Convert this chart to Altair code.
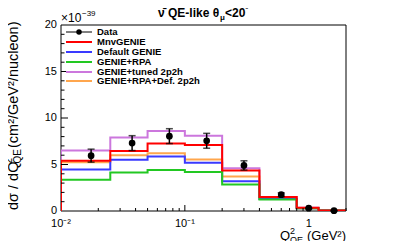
import altair as alt
import pandas as pd

# ---------------- data ----------------
edges = [0.01, 0.025, 0.05, 0.1, 0.2, 0.4, 0.8, 1.2, 2.0]
mnv_genie = [5.4, 6.45, 7.25, 7.1, 4.35, 1.5, 0.35, 0.05]
default_genie = [4.45, 5.5, 5.85, 5.2, 3.2, 1.3, 0.3, 0.05]
genie_rpa = [3.35, 4.15, 4.4, 4.2, 2.85, 1.25, 0.3, 0.05]
genie_tuned = [6.5, 7.9, 8.6, 8.1, 4.6, 1.5, 0.35, 0.05]
genie_rpa_def = [5.25, 6.0, 6.2, 5.55, 3.7, 1.35, 0.3, 0.05]

data_x = [0.0175, 0.0375, 0.075, 0.15, 0.3, 0.6, 1.0, 1.6]
data_y = [5.95, 7.3, 8.05, 7.55, 4.9, 1.75, 0.3, 0.03]
data_err = [0.7, 0.8, 0.8, 0.8, 0.5, 0.2, 0.05, 0.02]

legend_labels = ["Data", "MnvGENIE", "Default GENIE", "GENIE+RPA",
                 "GENIE+tuned 2p2h", "GENIE+RPA+Def. 2p2h"]
legend_colors = ["#000000", "#ff0000", "#3a3aff", "#22c822", "#cc77dd", "#ffa64d"]

x_label_vals = [0.01, 0.1, 1.0]
x_label_text = ["10⁻²", "10⁻¹", "1"]
y_label_vals = [0, 5, 10, 15, 20]
x_major = [0.1, 1.0]
x_minor = [0.02, 0.03, 0.04, 0.05, 0.06, 0.07, 0.08, 0.09,
           0.2, 0.3, 0.4, 0.5, 0.6, 0.7, 0.8, 0.9, 2.0]
y_major = [5, 10, 15]
y_minor = [1, 2, 3, 4, 6, 7, 8, 9, 11, 12, 13, 14, 16, 17, 18, 19]

W, H = 285, 186
FONT = "Liberation Sans"

xs = alt.Scale(type="log", domain=[0.01, 2.0], nice=False)
ys = alt.Scale(domain=[0, 20], nice=False, zero=False)


def X(f):
    return alt.X(f, scale=xs, axis=None)


def Y(f):
    return alt.Y(f, scale=ys, axis=None)


def hist_df(vals):
    px = [edges[0]] + edges[:-1] + [edges[-1], edges[-1]]
    py = [0] + vals + [vals[-1], 0]
    return pd.DataFrame({"x": px, "y": py, "o": list(range(len(px)))})


def hist(vals, color):
    return alt.Chart(hist_df(vals)).mark_line(
        interpolate="step-after", color=color, strokeWidth=2, clip=True
    ).encode(x=X("x:Q"), y=Y("y:Q"), order="o:Q")


one = pd.DataFrame({"a": [0]})

# frame
frame = alt.Chart(one).mark_rect(fill="white", stroke="black", strokeWidth=1).encode(
    x=alt.value(0), x2=alt.value(W), y=alt.value(0), y2=alt.value(H))

# axis labels
xlab = alt.Chart(pd.DataFrame({"x": x_label_vals, "t": x_label_text})).mark_text(
    font=FONT, fontSize=11, baseline="top", align="center", color="black").encode(
    x=X("x:Q"), y=alt.value(H + 7), text="t:N")
ylab = alt.Chart(pd.DataFrame({"y": y_label_vals})).mark_text(
    font=FONT, fontSize=11, baseline="middle", align="right", color="black").encode(
    y=Y("y:Q"), x=alt.value(-4), text="y:Q")

# tick marks (inward)
xt_major = alt.Chart(pd.DataFrame({"x": x_major})).mark_rule(color="black").encode(
    x=X("x:Q"), y=alt.value(H), y2=alt.value(H - 6))
xt_minor = alt.Chart(pd.DataFrame({"x": x_minor})).mark_rule(color="black").encode(
    x=X("x:Q"), y=alt.value(H), y2=alt.value(H - 3))
yt_major = alt.Chart(pd.DataFrame({"y": y_major})).mark_rule(color="black").encode(
    y=Y("y:Q"), x=alt.value(0), x2=alt.value(7))
yt_minor = alt.Chart(pd.DataFrame({"y": y_minor})).mark_rule(color="black").encode(
    y=Y("y:Q"), x=alt.value(0), x2=alt.value(3.5))

# data points
ddf = pd.DataFrame({"x": data_x, "y": data_y,
                    "lo": [a - b for a, b in zip(data_y, data_err)],
                    "hi": [a + b for a, b in zip(data_y, data_err)]})
err = alt.Chart(ddf).mark_rule(color="black", strokeWidth=1.5).encode(
    x=X("x:Q"), y=Y("lo:Q"), y2="hi:Q")
cap_hi = alt.Chart(ddf).mark_tick(color="black", orient="horizontal", size=7, thickness=1.5).encode(
    x=X("x:Q"), y=Y("hi:Q"))
cap_lo = alt.Chart(ddf).mark_tick(color="black", orient="horizontal", size=7, thickness=1.5).encode(
    x=X("x:Q"), y=Y("lo:Q"))
pts = alt.Chart(ddf).mark_point(filled=True, color="black", size=45, opacity=1).encode(
    x=X("x:Q"), y=Y("y:Q"))


def txt(s, x, y, size=11, bold=False, align="left", angle=0, baseline="alphabetic"):
    kw = dict(text=s, font=FONT, fontSize=size, fontWeight="bold" if bold else "normal",
              align=align, baseline=baseline, color="black")
    if angle:
        kw["angle"] = angle
    return alt.Chart(one).mark_text(**kw).encode(x=alt.value(x), y=alt.value(y))


texts = [
    # title
    txt("ν̄ QE-like  θ", 97, -8, 12, True),
    txt("μ", 159, -5, 8, True),
    txt("<20", 164, -8, 12, True),
    txt("°", 184, -13, 9, True),
    # exponent
    txt("×10", 0, -3, 12),
    txt("−39", 21, -9, 8),
    # x title
    txt(" (GeV²)", 285, 215, 13, align="right"),
    txt("QE", 242, 218, 9, align="right"),
    txt("2", 229, 209, 9),
    txt("Q", 229, 215, 13, align="right"),
    # y title (rotated)
    txt("dσ / dQ", -43.5, 185, 14.5, angle=270),
    txt("2", -49.5, 138.5, 10, angle=270),
    txt("QE", -40, 138.5, 10, angle=270),
    txt(" (cm²/GeV²/nucleon)", -43.5, 123, 14.5, angle=270),
]

# legend
leg_y = [7, 17, 27, 37, 47, 56]
legend = []
for i, (lab, col) in enumerate(zip(legend_labels, legend_colors)):
    legend.append(alt.Chart(one).mark_rule(
        color=col, strokeWidth=1 if i == 0 else 2).encode(
        x=alt.value(5), x2=alt.value(31), y=alt.value(leg_y[i])))
    legend.append(txt(lab, 36, leg_y[i], 9.5, True, baseline="middle"))
legend.append(alt.Chart(one).mark_point(
    filled=True, color="black", size=30, opacity=1).encode(
    x=alt.value(18), y=alt.value(leg_y[0])))

chart = alt.layer(
    frame,
    hist(genie_tuned, legend_colors[4]),
    hist(genie_rpa_def, legend_colors[5]),
    hist(default_genie, legend_colors[2]),
    hist(genie_rpa, legend_colors[3]),
    hist(mnv_genie, legend_colors[1]),
    xt_major, xt_minor, yt_major, yt_minor,
    err, cap_hi, cap_lo, pts,
    xlab, ylab,
    *texts, *legend,
).properties(
    width=W, height=H,
    autosize=alt.AutoSizeParams(type="none"),
    padding={"left": 53, "top": 17, "right": 53, "bottom": 30},
    background="white",
).configure_view(stroke=None)

chart.save("out.html", embed_options={"renderer": "svg", "actions": False})
